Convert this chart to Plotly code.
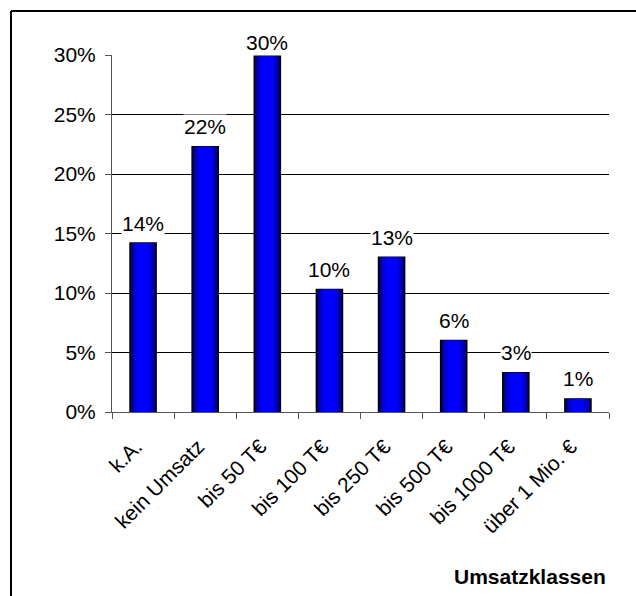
import plotly.graph_objects as go

categories = ["k.A.", "kein Umsatz", "bis 50 T€", "bis 100 T€", "bis 250 T€",
              "bis 500 T€", "bis 1000 T€", "über 1 Mio. €"]
values = [0.142, 0.223, 0.299, 0.103, 0.130, 0.060, 0.033, 0.011]
labels = ["14%", "22%", "30%", "10%", "13%", "6%", "3%", "1%"]
yticks = [0, 0.05, 0.10, 0.15, 0.20, 0.25, 0.30]
yticklabels = ["0%", "5%", "10%", "15%", "20%", "25%", "30%"]

W, H = 636, 596
ml, mr, mt, mb = 112, 27, 55, 184
pw, ph = W - ml - mr, H - mt - mb

fig = go.Figure()

# layered bars to imitate the cylindrical gradient
layers = [(0.42, "#000070"), (0.37, "#0000A0"), (0.30, "#0000D0"), (0.20, "#0000FF")]
for i, (w, c) in enumerate(layers):
    fig.add_trace(go.Bar(
        x=categories, y=values, width=w,
        marker=dict(color=c, line=dict(color="black", width=1.5 if i == 0 else 0)),
        hoverinfo="skip", showlegend=False,
    ))

font = "Liberation Sans, Arial, sans-serif"
fs = 21
top = max(values)
for cat, v, lab in zip(categories, values, labels):
    fig.add_annotation(x=cat, y=v, text=lab, showarrow=False, yanchor="middle",
                       yshift=14 if v == top else 20, bgcolor="white",
                       font=dict(family=font, size=fs, color="black"), borderpad=0)

fig.add_annotation(xref="paper", yref="paper", x=(530 - ml) / pw, y=-(576 - mt - ph) / ph,
                   text="<b>Umsatzklassen</b>", showarrow=False, xanchor="center", yanchor="middle",
                   font=dict(family=font, size=fs, color="black"))

# outer frame (partially cropped)
x0 = (11 - ml) / pw
y1 = 1 + (mt - 11) / ph
fig.add_shape(type="line", xref="paper", yref="paper", x0=x0, x1=x0, y0=y1, y1=-2,
              line=dict(color="black", width=2))
fig.add_shape(type="line", xref="paper", yref="paper", x0=x0, x1=2, y0=y1, y1=y1,
              line=dict(color="black", width=2))

fig.update_layout(
    width=W, height=H, margin=dict(l=ml, r=mr, t=mt, b=mb, autoexpand=False),
    paper_bgcolor="white", plot_bgcolor="white", barmode="overlay",
    font=dict(family=font, size=fs, color="black"),
)
fig.update_xaxes(type="category", showline=True, linecolor="#555", linewidth=1,
                 ticks="outside", tickson="boundaries", ticklen=6, tickcolor="#555",
                 tickangle=-45, tickfont=dict(family=font, size=fs), showgrid=False,
                 ticklabelstandoff=13, ticklabelshift=-7)
fig.update_yaxes(range=[0, 0.30], tickvals=yticks, ticktext=yticklabels,
                 showline=True, linecolor="#555", linewidth=1, ticks="outside", ticklen=6,
                 tickcolor="#555", showgrid=True, gridcolor="black", gridwidth=1,
                 tickfont=dict(family=font, size=fs), zeroline=False, ticklabelstandoff=5)

fig.write_html("out.html")
